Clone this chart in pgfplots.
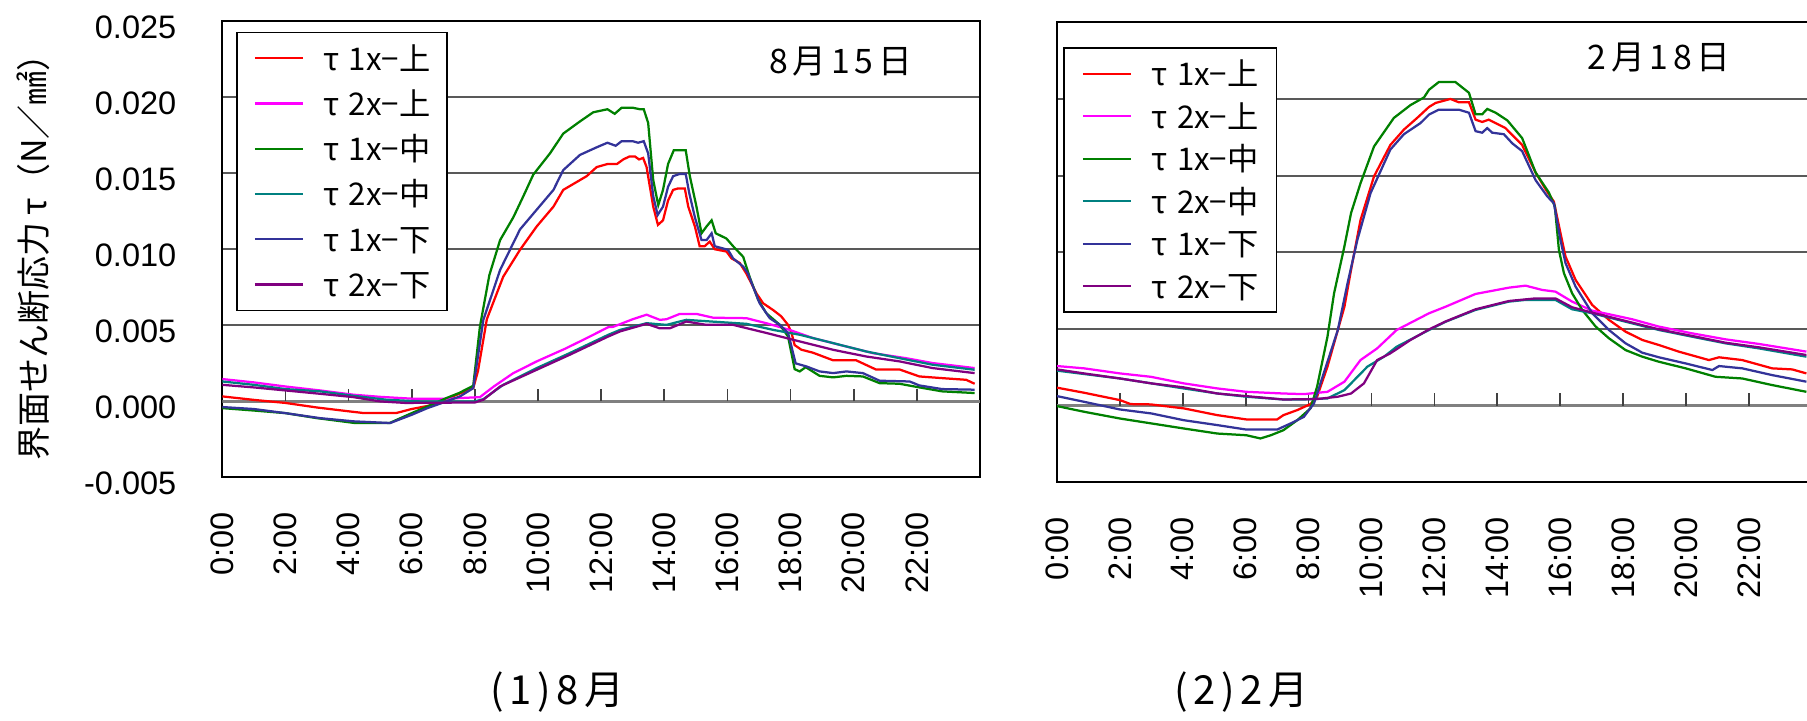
\documentclass[border=0pt]{standalone}
\usepackage{fontspec}
\setmainfont{Liberation Sans}
\newfontfamily\jp{Noto Sans CJK JP}
\newfontfamily\jpsp[LetterSpace=14]{Noto Sans CJK JP}
\usepackage{pgfplots}
\pgfplotsset{compat=1.18}
\definecolor{cRed}{RGB}{255,0,0}
\definecolor{cMag}{RGB}{255,0,255}
\definecolor{cGrn}{RGB}{0,128,0}
\definecolor{cTeal}{RGB}{0,128,128}
\definecolor{cBlue}{RGB}{51,51,153}
\definecolor{cPur}{RGB}{128,0,128}
\newcommand\lf{\jp\fontsize{12.5}{14}\selectfont}
\tikzset{zeroline/.style={black!50, line width=1.1pt}}
\pgfplotsset{
  panel/.style={
    scale only axis, anchor=south west,
    xmin=0, xmax=24, ymin=-0.005, ymax=0.025,
    xtick={0,2,...,22},
    xticklabels={0:00,2:00,4:00,6:00,8:00,10:00,12:00,14:00,16:00,18:00,20:00,22:00},
    ytick={-0.005,0,0.005,0.01,0.015,0.02,0.025},
    scaled y ticks=false,
    major tick length=0pt,
    ymajorgrids, major grid style={black!65, line width=0.7pt},
    axis line style={black, line width=0.8pt},
    x tick label style={rotate=90, anchor=east, inner sep=0pt, font=\fontsize{13}{15}\selectfont},
    y tick label style={anchor=east, inner sep=0pt, font=\fontsize{13}{15}\selectfont, yshift=-2.4pt},
    xticklabel shift=13.6pt,
    yticklabel shift=18.2pt,
    every axis plot/.append style={line width=0.9pt, no markers},
    legend image code/.code={\draw[##1] (0pt,0pt) -- (19.4pt,0pt);},
    legend cell align=left,
  },
}
\newcommand\hticks{%
  \draw[zeroline] (axis cs:0,0) -- (axis cs:24,0);
  \pgfplotsinvokeforeach{2,4,6,8,10,12,14,16,18,20,22}{\draw[black!75, line width=0.7pt] (axis cs:##1,0) -- (axis cs:##1,0.00081);}
}
\begin{document}
\begin{tikzpicture}
\useasboundingbox (0,0) rectangle (722.8pt,288.4pt);
% ---------------- August ----------------
\begin{axis}[panel, at={(88.9pt,97.4pt)}, width=303.1pt, height=182.6pt,
  yticklabels={-0.005,0.000,0.005,0.010,0.015,0.020,0.025},
  legend style={at={(0.0187,0.9766)}, anchor=north west, draw=black, line width=0.6pt, fill=white,
    inner xsep=6.6pt, inner ysep=1.3pt, row sep=0pt, column sep=7.6pt, font=\lf,
    nodes={inner sep=0pt, text height=13.75pt, text depth=4.35pt}}]
\hticks
\addplot[cRed] coordinates {(0,0.00033) (1,0.0001) (2,-0.0001) (3,-0.0004) (4,-0.00065) (4.5,-0.00077) (5.5,-0.00077) (6,-0.0005) (6.5,-0.0003) (6.9,-0.0001) (7.3,0.00033) (7.95,0.00087) (8.1,0.002) (8.38,0.0054) (8.9,0.0082) (9.43,0.00996) (9.96,0.0115) (10.49,0.0128) (10.8,0.0139) (11.54,0.0148) (11.86,0.0154) (12.2,0.0156) (12.5,0.0156) (12.7,0.0159) (12.9,0.0161) (13.07,0.0161) (13.2,0.0159) (13.33,0.016) (13.44,0.0154) (13.65,0.0128) (13.8,0.0116) (13.96,0.0119) (14.12,0.0132) (14.28,0.0139) (14.44,0.014) (14.65,0.014) (14.76,0.0128) (14.97,0.0115) (15.12,0.0102) (15.28,0.0102) (15.44,0.0105) (15.6,0.01) (15.97,0.00985) (16.13,0.0094) (16.39,0.0091) (16.6,0.0084) (16.92,0.0071) (17.13,0.00645) (17.45,0.006) (17.7,0.0056) (17.92,0.00503) (18.03,0.0045) (18.13,0.0037) (18.34,0.0034) (18.71,0.0032) (19.35,0.0027) (20.08,0.0027) (20.7,0.0021) (21.45,0.0021) (22.08,0.00164) (22.8,0.00153) (23.56,0.00142) (23.83,0.00116)};
\addlegendentry{τ\hspace{0.3em}1x−上}
\addplot[cMag] coordinates {(0,0.00147) (1,0.00125) (2,0.00098) (3.1,0.00072) (4.16,0.00044) (5,0.0003) (6,0.00018) (7.1,0.00018) (8.16,0.00028) (8.6,0.00098) (9.22,0.00186) (9.96,0.00263) (10.9,0.0035) (11.54,0.00416) (12.23,0.00488) (12.38,0.0049) (13,0.0054) (13.44,0.0057) (13.86,0.00536) (14.07,0.0054) (14.49,0.00575) (15.02,0.00575) (15.55,0.0055) (16.6,0.00547) (17.23,0.00514) (17.97,0.0047) (18.71,0.00416) (19.55,0.00372) (20.61,0.00317) (21.66,0.00284) (22.5,0.00252) (23.83,0.00219)};
\addlegendentry{τ\hspace{0.3em}2x−上}
\addplot[cGrn] coordinates {(0,-0.00044) (1,-0.0006) (2,-0.00077) (3,-0.0011) (4.2,-0.00142) (5.3,-0.00142) (6,-0.00077) (6.5,-0.00033) (7.1,0.00022) (7.5,0.00055) (7.95,0.00103) (8.16,0.0049) (8.46,0.0083) (8.8,0.0106) (9.22,0.0121) (9.54,0.0135) (9.85,0.0149) (10.38,0.0163) (10.8,0.0176) (11.33,0.0184) (11.75,0.019) (12.2,0.0192) (12.43,0.0189) (12.65,0.0193) (13.0,0.0193) (13.23,0.0192) (13.35,0.0192) (13.49,0.0183) (13.65,0.01455) (13.81,0.0129) (13.96,0.0139) (14.12,0.0156) (14.3,0.0165) (14.68,0.0165) (14.81,0.0148) (15.02,0.0128) (15.18,0.01105) (15.34,0.0115) (15.5,0.0119) (15.63,0.01105) (15.97,0.0107) (16.18,0.0102) (16.5,0.0095) (16.7,0.0082) (16.97,0.0067) (17.23,0.0058) (17.66,0.00503) (17.92,0.00427) (18.13,0.00212) (18.29,0.00197) (18.48,0.00225) (18.92,0.00168) (19.35,0.00158) (19.77,0.00168) (20.29,0.00164) (20.82,0.0012) (21.45,0.00116) (22.08,0.00092) (22.8,0.00066) (23.83,0.00055)};
\addlegendentry{τ\hspace{0.3em}1x−中}
\addplot[cTeal] coordinates {(0,0.00131) (1,0.00109) (2,0.00081) (3.1,0.00066) (4.16,0.00037) (5.2,0.00011) (6.27,0.0) (8.0,0.0) (8.27,0.00015) (8.9,0.00109) (9.96,0.00219) (11,0.00317) (12.23,0.00438) (12.6,0.0047) (13.44,0.00514) (14.07,0.00503) (14.7,0.00536) (15.12,0.0053) (16.6,0.0051) (17.45,0.0047) (18.29,0.00438) (19.35,0.00383) (20.4,0.00328) (21.45,0.00284) (22.5,0.00241) (23.83,0.00208)};
\addlegendentry{τ\hspace{0.3em}2x−中}
\addplot[cBlue] coordinates {(0,-0.00037) (1,-0.0005) (2,-0.00077) (3.1,-0.0011) (4.16,-0.00131) (5.32,-0.00142) (6,-0.00088) (6.5,-0.00044) (7.1,0.0) (7.53,0.00033) (7.95,0.00087) (8.27,0.00536) (8.8,0.00864) (9.43,0.0113) (9.96,0.0126) (10.49,0.0139) (10.8,0.0152) (11.33,0.0162) (11.86,0.0167) (12.2,0.017) (12.46,0.0168) (12.65,0.0171) (13.0,0.0171) (13.17,0.017) (13.35,0.0171) (13.49,0.0163) (13.65,0.0135) (13.79,0.01225) (13.96,0.0128) (14.12,0.0141) (14.28,0.0148) (14.49,0.01495) (14.68,0.01495) (14.79,0.0137) (14.97,0.0121) (15.18,0.0106) (15.34,0.0106) (15.5,0.01105) (15.6,0.0102) (16.02,0.00996) (16.18,0.0094) (16.5,0.00886) (16.65,0.0084) (17.02,0.00645) (17.34,0.00547) (17.66,0.00503) (17.92,0.0045) (18.03,0.0036) (18.16,0.0025) (18.5,0.0023) (18.92,0.00197) (19.35,0.00186) (19.77,0.00197) (20.29,0.00186) (20.82,0.00136) (21.77,0.00131) (22.08,0.00105) (22.8,0.00081) (23.83,0.00077)};
\addlegendentry{τ\hspace{0.3em}1x−下}
\addplot[cPur] coordinates {(0,0.00109) (1,0.00092) (2,0.00072) (3.1,0.0005) (4.16,0.00028) (5,0.0) (5.8,-0.0001) (8.0,-0.00007) (8.27,0.00011) (8.8,0.00098) (9.96,0.00208) (11,0.00306) (12.23,0.00427) (12.6,0.0046) (13.44,0.0051) (13.86,0.0048) (14.17,0.0048) (14.7,0.00525) (15.34,0.00503) (16.18,0.00503) (17.23,0.0045) (18.29,0.00394) (19.35,0.00339) (20.4,0.00295) (21.45,0.00263) (22.5,0.00219) (23.83,0.00186)};
\addlegendentry{τ\hspace{0.3em}2x−下}
\end{axis}
% ---------------- February ----------------
\begin{axis}[panel, at={(422.8pt,95.4pt)}, width=301.9pt, height=184.1pt,
  yticklabels={,,,,,,},
  legend style={at={(0.0084,0.9455)}, anchor=north west, draw=black, line width=0.6pt, fill=white,
    inner xsep=7.1pt, inner ysep=1.8pt, row sep=0pt, column sep=7.6pt, font=\lf,
    nodes={inner sep=0pt, text height=13.2pt, text depth=3.8pt}}]
\hticks
\addplot[cRed] coordinates {(0,0.00118) (0.86,0.00085) (2,0.00037) (2.34,0.00011) (2.98,0.00009) (4.03,-0.00017) (5.1,-0.00061) (6.02,-0.00089) (7.0,-0.00089) (7.2,-0.00061) (7.64,-0.00028) (8.06,0.00011) (8.27,0.00059) (8.6,0.00255) (8.93,0.00494) (9.14,0.00646) (9.35,0.00886) (9.65,0.0121) (10.08,0.01495) (10.6,0.017) (11.03,0.018) (11.45,0.01876) (11.83,0.01948) (12.04,0.01974) (12.51,0.02) (12.78,0.01978) (13.1,0.01978) (13.31,0.01865) (13.52,0.0185) (13.73,0.01865) (14.26,0.0181) (14.79,0.017) (15.22,0.0152) (15.54,0.0141) (15.8,0.0133) (16.01,0.01125) (16.17,0.00973) (16.49,0.0082) (17.02,0.00657) (17.55,0.0056) (18.08,0.00483) (18.61,0.00429) (19.14,0.00396) (19.77,0.00353) (20.73,0.00298) (21.05,0.00316) (21.79,0.00298) (22.74,0.00244) (23.38,0.00237) (23.83,0.00211)};
\addlegendentry{τ\hspace{0.3em}1x−上}
\addplot[cMag] coordinates {(0,0.00259) (0.86,0.00244) (2,0.00211) (2.98,0.00189) (4.03,0.00146) (5.1,0.00113) (6.02,0.00091) (7.2,0.0008) (7.85,0.00076) (8.6,0.00091) (9.14,0.00157) (9.65,0.00298) (10.18,0.00374) (10.8,0.00494) (11.83,0.00603) (12.36,0.00646) (13.31,0.00729) (14.37,0.0077) (14.9,0.00783) (15.43,0.00755) (15.85,0.00744) (16.38,0.00679) (17.02,0.0062) (17.66,0.00592) (18.29,0.00564) (19.14,0.00516) (20.2,0.00472) (21.26,0.00433) (22.32,0.00403) (23.83,0.00353)};
\addlegendentry{τ\hspace{0.3em}2x−上}
\addplot[cGrn] coordinates {(0,-0.00002) (0.86,-0.00039) (2,-0.00083) (3,-0.00115) (4.03,-0.00148) (5.1,-0.00181) (6.02,-0.00192) (6.47,-0.00213) (6.8,-0.00192) (7.2,-0.00159) (7.64,-0.00094) (8.06,-0.00017) (8.27,0.00124) (8.6,0.0045) (8.81,0.00733) (9.14,0.0104) (9.35,0.01256) (9.65,0.0145) (10.08,0.0169) (10.71,0.01876) (11.24,0.0196) (11.67,0.0201) (11.83,0.0206) (12.14,0.0211) (12.67,0.0211) (13.1,0.0204) (13.31,0.019) (13.52,0.019) (13.68,0.01935) (13.95,0.0191) (14.32,0.0186) (14.79,0.01745) (15.22,0.0152) (15.64,0.0139) (15.83,0.013) (15.96,0.01016) (16.12,0.00864) (16.38,0.00733) (16.7,0.00625) (17.13,0.00516) (17.55,0.0044) (18.08,0.00363) (18.61,0.0032) (19.14,0.00287) (19.99,0.00244) (20.94,0.00189) (21.79,0.00178) (22.74,0.00135) (23.83,0.00091)};
\addlegendentry{τ\hspace{0.3em}1x−中}
\addplot[cTeal] coordinates {(0,0.00229) (0.86,0.00207) (2,0.00178) (3,0.00146) (4.03,0.00113) (5.1,0.0008) (6.02,0.00059) (7.2,0.00041) (7.85,0.00041) (8.6,0.00048) (9.14,0.00102) (9.87,0.00255) (10.4,0.0032) (10.8,0.00385) (11.83,0.00494) (12.36,0.00548) (13.31,0.00625) (14.37,0.00679) (14.9,0.0069) (15.85,0.0069) (16.38,0.00629) (17.02,0.00603) (18.08,0.00548) (19.14,0.00494) (20.2,0.0045) (21.26,0.00407) (22.32,0.00374) (23.83,0.0032)};
\addlegendentry{τ\hspace{0.3em}2x−中}
\addplot[cBlue] coordinates {(0,0.00063) (0.86,0.00026) (2,-0.00024) (3,-0.0005) (4.03,-0.00094) (5.1,-0.00126) (6.02,-0.00155) (7.0,-0.00155) (7.43,-0.00115) (7.85,-0.00072) (8.17,0.00015) (8.48,0.00211) (8.93,0.00494) (9.24,0.008) (9.55,0.0108) (9.97,0.01386) (10.6,0.0167) (11.03,0.0177) (11.56,0.01843) (11.83,0.01898) (12.14,0.0193) (12.78,0.0193) (13.1,0.0191) (13.31,0.0179) (13.52,0.0178) (13.68,0.0181) (13.84,0.0178) (14.21,0.0177) (14.48,0.0171) (14.79,0.0166) (15.22,0.0147) (15.59,0.01365) (15.8,0.0132) (16.01,0.0108) (16.17,0.0093) (16.49,0.00777) (17.02,0.00603) (17.55,0.00494) (18.08,0.00407) (18.61,0.00346) (19.14,0.00316) (19.99,0.00276) (20.84,0.00233) (21.05,0.00259) (21.79,0.00244) (22.74,0.002) (23.83,0.00157)};
\addlegendentry{τ\hspace{0.3em}1x−下}
\addplot[cPur] coordinates {(0,0.00237) (0.86,0.00211) (2,0.00178) (3,0.00146) (4.03,0.0012) (5.1,0.0008) (6.02,0.00063) (7.2,0.00041) (8.27,0.00044) (8.93,0.00059) (9.35,0.0008) (9.76,0.00146) (10.18,0.00298) (10.6,0.00342) (11.24,0.00429) (11.83,0.00498) (12.36,0.0055) (13.31,0.00629) (14.37,0.00683) (15.22,0.007) (15.85,0.007) (16.38,0.00642) (17.02,0.00607) (18.08,0.00553) (19.14,0.00498) (20.2,0.00455) (21.26,0.00411) (22.32,0.00381) (23.83,0.00331)};
\addlegendentry{τ\hspace{0.3em}2x−下}
\end{axis}
% ---------------- texts ----------------
\node[rotate=90, font=\jp\fontsize{13.6}{15}\selectfont] at (13.2pt,188.8pt) {界面せん断応力 τ（N／㎟）};
\node[font=\jpsp\fontsize{13.5}{15}\selectfont] at (336.3pt,263.7pt) {8月15日};
\node[font=\jpsp\fontsize{13.5}{15}\selectfont] at (663.7pt,265.4pt) {2月18日};
\node[font=\jpsp\fontsize{16}{18}\selectfont] at (223pt,11.4pt) {(1)8月};
\node[font=\jpsp\fontsize{16}{18}\selectfont] at (496.7pt,11.4pt) {(2)2月};
\end{tikzpicture}
\end{document}
